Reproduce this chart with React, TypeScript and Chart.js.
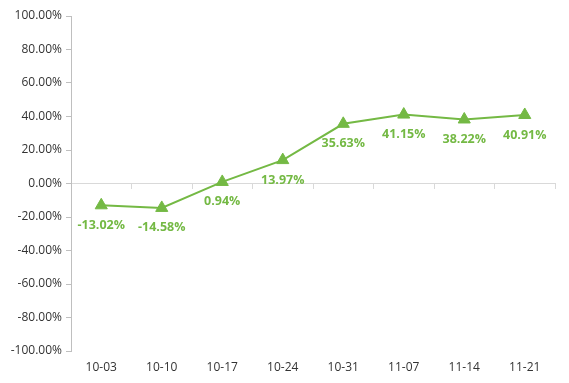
import React, { useEffect, useRef } from "react";
import { Chart, registerables } from "chart.js";

Chart.register(...registerables);

const categories = ["10-03", "10-10", "10-17", "10-24", "10-31", "11-07", "11-14", "11-21"];
const values = [-13.02, -14.58, 0.94, 13.97, 35.63, 41.15, 38.22, 40.91];
const yMin = -100;
const yMax = 100;
const yStep = 20;

const GREEN = "#74b944";
const FONT = "'Open Sans', 'Noto Sans', sans-serif";

const labelPlugin = {
  id: "pointLabels",
  afterDatasetsDraw(chart: any) {
    const meta = chart.getDatasetMeta(0);
    const ctx = chart.ctx;
    ctx.save();
    ctx.fillStyle = GREEN;
    ctx.font = `bold 12.5px ${FONT}`;
    ctx.textAlign = "center";
    ctx.textBaseline = "middle";
    meta.data.forEach((pt: any, i: number) => {
      ctx.fillText(values[i].toFixed(2) + "%", pt.x, pt.y + 20);
    });
    ctx.restore();
  },
};

export default function App() {
  const ref = useRef<HTMLCanvasElement>(null);
  useEffect(() => {
    if (!ref.current) return;
    const chart = new Chart(ref.current, {
      type: "line",
      data: {
        labels: categories,
        datasets: [
          {
            data: values,
            borderColor: GREEN,
            backgroundColor: GREEN,
            borderWidth: 2,
            pointStyle: "triangle",
            pointRadius: 7,
            pointBorderWidth: 1,
            pointBackgroundColor: GREEN,
            pointBorderColor: GREEN,
            tension: 0,
            xAxisID: "x",
            yAxisID: "y",
          },
        ],
      },
      options: {
        animation: false,
        responsive: true,
        maintainAspectRatio: false,
        layout: { padding: { top: 16, right: 14, left: 0, bottom: 0 } },
        plugins: { legend: { display: false }, tooltip: { enabled: false } },
        scales: {
          x: {
            type: "category",
            position: "bottom",
            offset: true,
            grid: { display: false },
            border: { display: false },
            ticks: { color: "#333", font: { family: FONT, size: 12 }, padding: 1, maxRotation: 0 },
            afterFit(scale: any) {
              scale.height = 32;
            },
          },
          x2: {
            type: "category",
            labels: categories,
            position: { y: 0 },
            offset: true,
            grid: { offset: true, drawOnChartArea: false, drawTicks: true, tickLength: 5, color: "#d9d9d9" },
            border: { display: true, color: "#d9d9d9", width: 1 },
            ticks: { display: false },
          },
          y: {
            min: yMin,
            max: yMax,
            ticks: {
              stepSize: yStep,
              color: "#333",
              font: { family: FONT, size: 12 },
              padding: 4,
              callback: (v: any) => Number(v).toFixed(2) + "%",
            },
            grid: { drawOnChartArea: false, drawTicks: true, tickLength: 5, color: "#bfbfbf" },
            border: { display: true, color: "#bfbfbf", width: 1 },
            afterFit(scale: any) {
              scale.width = 71;
            },
          },
        },
      },
      plugins: [labelPlugin],
    } as any);
    return () => chart.destroy();
  }, []);
  return (
    <div style={{ position: "fixed", left: 0, top: 0, width: 569, height: 383, background: "#fff" }}>
      <canvas ref={ref} />
    </div>
  );
}
